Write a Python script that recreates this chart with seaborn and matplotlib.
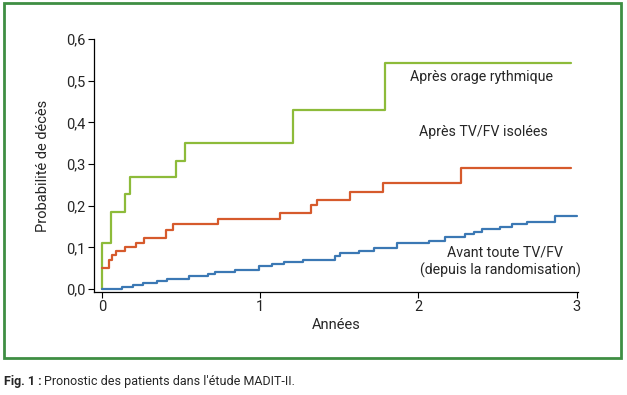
import numpy as np
import pandas as pd
import seaborn as sns
import matplotlib.pyplot as plt
from matplotlib.patches import Rectangle

# courbes de survie (probabilite cumulee de deces)
t_orage = [0, 0.0, 0.055, 0.146, 0.177, 0.466, 0.525, 1.205, 1.787, 2.966]
p_orage = [0, 0.11, 0.185, 0.228, 0.268, 0.307, 0.35, 0.43, 0.543, 0.543]

t_isol = [0, 0.044, 0.061, 0.087, 0.146, 0.213, 0.266, 0.405, 0.447, 0.736,
          1.127, 1.32, 1.362, 1.565, 1.774, 2.272, 2.966]
p_isol = [0.051, 0.069, 0.081, 0.091, 0.10, 0.111, 0.123, 0.142, 0.157, 0.169,
          0.183, 0.201, 0.214, 0.234, 0.255, 0.29, 0.29]

t_avant = [0, 0.125, 0.196, 0.26, 0.35, 0.41, 0.55, 0.67, 0.715, 0.84, 0.99,
           1.074, 1.15, 1.27, 1.475, 1.506, 1.622, 1.717, 1.865, 2.07, 2.17,
           2.297, 2.35, 2.403, 2.519, 2.593, 2.688, 2.861, 3.0]
p_avant = [0, 0.005, 0.01, 0.015, 0.02, 0.025, 0.03, 0.035, 0.04, 0.045, 0.055,
           0.06, 0.065, 0.07, 0.0795, 0.086, 0.092, 0.0996, 0.111, 0.116, 0.124,
           0.132, 0.138, 0.144, 0.150, 0.156, 0.162, 0.176, 0.176]

groupes = ["orage", "isolees", "avant"]
couleurs = {"orage": "#8dbb3a", "isolees": "#d65a2c", "avant": "#3b78b4"}

df = pd.concat([
    pd.DataFrame({"t": t_orage, "p": p_orage, "groupe": "orage"}),
    pd.DataFrame({"t": t_isol, "p": p_isol, "groupe": "isolees"}),
    pd.DataFrame({"t": t_avant, "p": p_avant, "groupe": "avant"}),
], ignore_index=True)

sns.set_style("ticks")
plt.rcParams['font.family'] = ['Roboto', 'DejaVu Sans']

fig = plt.figure(figsize=(6.27, 3.95), dpi=100)
ax = fig.add_axes([0.150, 0.261, 0.772, 0.640])

for g in groupes:
    sub = df[df["groupe"] == g]
    sns.lineplot(data=sub, x="t", y="p", ax=ax, color=couleurs[g],
                 drawstyle="steps-post", linewidth=1.6, sort=False,
                 estimator=None, legend=False)

ax.set_xlim(-0.05, 3.01)
ax.set_ylim(-0.007, 0.6)
ax.set_xticks([0, 1, 2, 3])
ax.set_yticks([0, 0.1, 0.2, 0.3, 0.4, 0.5, 0.6])
ax.set_yticklabels([f"{v:.1f}".replace(".", ",") for v in ax.get_yticks()])
ax.tick_params(labelsize=10.5, length=4, width=0.8, color="black", pad=2)
for s in ["left", "bottom"]:
    ax.spines[s].set_linewidth(0.9)
    ax.spines[s].set_color("black")
sns.despine(ax=ax)
ax.spines["left"].set_bounds(-0.007, 0.6)

ax.set_xlabel("Années", fontsize=10.5, labelpad=3)
ax.set_ylabel("Probabilité de décès", fontsize=10.5, labelpad=12)

ax.text(2.4, 0.51, "Après orage rythmique", fontsize=10.2, ha="center", va="center")
ax.text(2.41, 0.376, "Après TV/FV isolées", fontsize=10.2, ha="center", va="center")
ax.text(2.55, 0.087, "Avant toute TV/FV", fontsize=10.2, ha="center", va="center")
ax.text(2.52, 0.045, "(depuis la randomisation)", fontsize=10.2, ha="center", va="center")

# cadre vert autour de la figure
fig.patches.append(Rectangle((4 / 627, 1 - 358 / 395), 617 / 627, 355 / 395,
                             transform=fig.transFigure, fill=False,
                             edgecolor="#3f8e43", linewidth=2))

fig.text(4 / 627, 1 - 381 / 395, "Fig. 1 :", fontsize=9, fontweight="bold",
         va="center", ha="left")
fig.text(44 / 627, 1 - 381 / 395, "Pronostic des patients dans l'étude MADIT-II.",
         fontsize=9, va="center", ha="left")

fig.savefig("out.png", dpi=100)
